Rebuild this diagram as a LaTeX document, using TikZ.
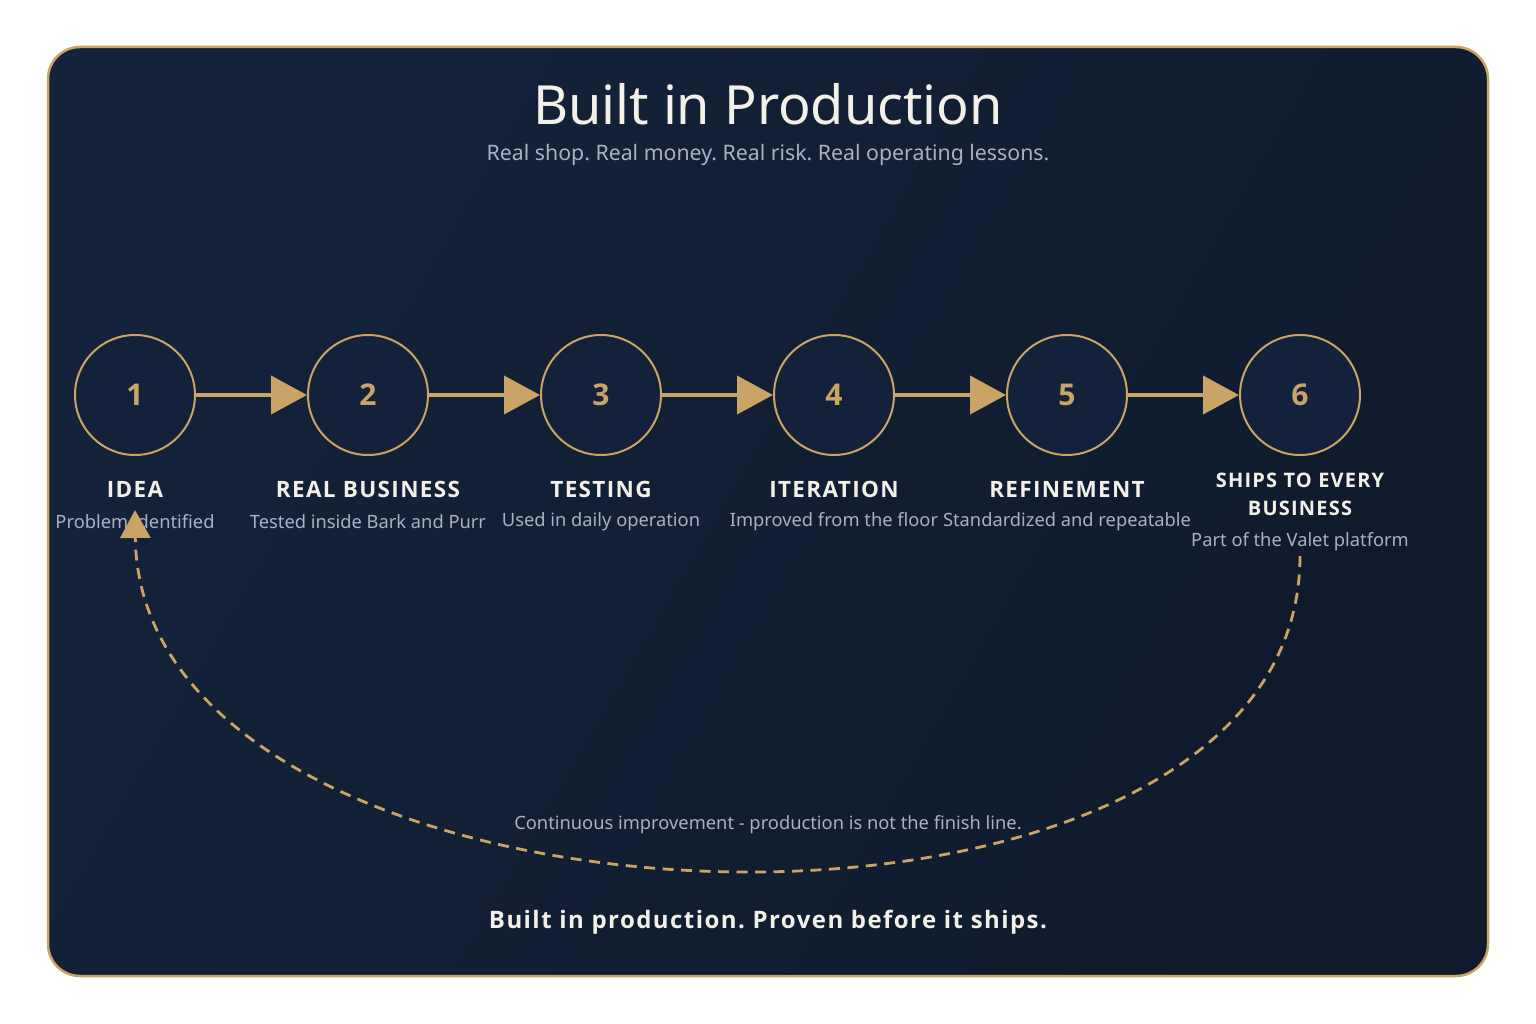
\documentclass[tikz,border=0pt]{standalone}
\usepackage{fontspec}
\setmainfont{Noto Sans}
\newfontfamily\osans{Open Sans}
\newfontfamily\trackedsans{Open Sans}[LetterSpace=6]
\usetikzlibrary{arrows.meta}
\definecolor{gold}{HTML}{C9A466}
\definecolor{navyA}{HTML}{14233A}
\definecolor{navyB}{HTML}{0F1A2C}
\definecolor{circfill}{HTML}{13223A}
\definecolor{titlewhite}{HTML}{F3F0EA}
\definecolor{subgray}{HTML}{A8B2C0}
\tikzset{
  stepcirc/.style={circle, draw=gold, line width=2pt, fill=circfill, minimum size=120pt, inner sep=0pt,
    text=gold, font=\fontsize{30}{36}\selectfont\osans\bfseries},
  steptitle/.style={text=titlewhite, font=\fontsize{22.5}{28}\selectfont\trackedsans\bfseries, align=center, inner sep=0pt},
  stepsub/.style={text=subgray, font=\fontsize{18.3}{22}\selectfont, inner sep=0pt},
  flow/.style={draw=gold, line width=4pt, -{Triangle[length=36pt,width=38pt]}},
  loop/.style={draw=gold, line width=2.8pt, dash pattern=on 11pt off 7.5pt, -{Triangle[length=28pt,width=30pt]}}
}
\begin{document}
\frenchspacing
\begin{tikzpicture}[x=1pt,y=-1pt]
\useasboundingbox (0,0) rectangle (1536,1024);
\fill[white] (0,0) rectangle (1536,1024);
\path[draw=gold, line width=2.5pt, rounded corners=32pt, left color=navyA, right color=navyB, shading angle=60]
  (48,47) rectangle (1488,976);
\node[text=titlewhite, font=\fontsize{54}{64}\selectfont, inner sep=0pt] (title) at (768,104) {Built in Production};
\node[text=subgray, font=\fontsize{21.3}{26}\selectfont, inner sep=0pt] (subtitle) at (768,155) {Real shop. Real money. Real risk. Real operating lessons.};

\node[stepcirc] (c1) at (135,395) {1};
\node[stepcirc] (c2) at (368,395) {2};
\node[stepcirc] (c3) at (601,395) {3};
\node[stepcirc] (c4) at (834,395) {4};
\node[stepcirc] (c5) at (1067,395) {5};
\node[stepcirc] (c6) at (1300,395) {6};
\draw[flow] (c1) -- (c2);
\draw[flow] (c2) -- (c3);
\draw[flow] (c3) -- (c4);
\draw[flow] (c4) -- (c5);
\draw[flow] (c5) -- (c6);

\node[steptitle] (t1) at (135,489) {IDEA};
\node[steptitle] (t2) at (368,489) {REAL BUSINESS};
\node[steptitle] (t3) at (601,489) {TESTING};
\node[steptitle] (t4) at (834,489) {ITERATION};
\node[steptitle] (t5) at (1067,489) {REFINEMENT};
\node[steptitle, font=\fontsize{20}{28}\selectfont\trackedsans\bfseries] (t6) at (1300,494) {SHIPS TO EVERY\\BUSINESS};
\node[stepsub] (s1) at (135,522) {Problem identified};
\node[stepsub] (s2) at (368,522) {Tested inside Bark and Purr};
\node[stepsub] (s3) at (601,522) {Used in daily operation};
\node[stepsub] (s4) at (834,522) {Improved from the floor};
\node[stepsub] (s5) at (1067,522) {Standardized and repeatable};
\node[stepsub] (s6) at (1300,542) {Part of the Valet platform};

\coordinate (loopstart) at (1300,556);
\coordinate (loopend) at (135,510);
\draw[loop] (loopstart) .. controls (1300,1000) and (140,960) .. (loopend);
\node[stepsub] (looplabel) at (768,825) {Continuous improvement - production is not the finish line.};
\node[text=titlewhite, font=\fontsize{24}{28}\selectfont\trackedsans\bfseries, inner sep=0pt] (tagline) at (768,922) {Built in production. Proven before it ships.};
\end{tikzpicture}
\end{document}
